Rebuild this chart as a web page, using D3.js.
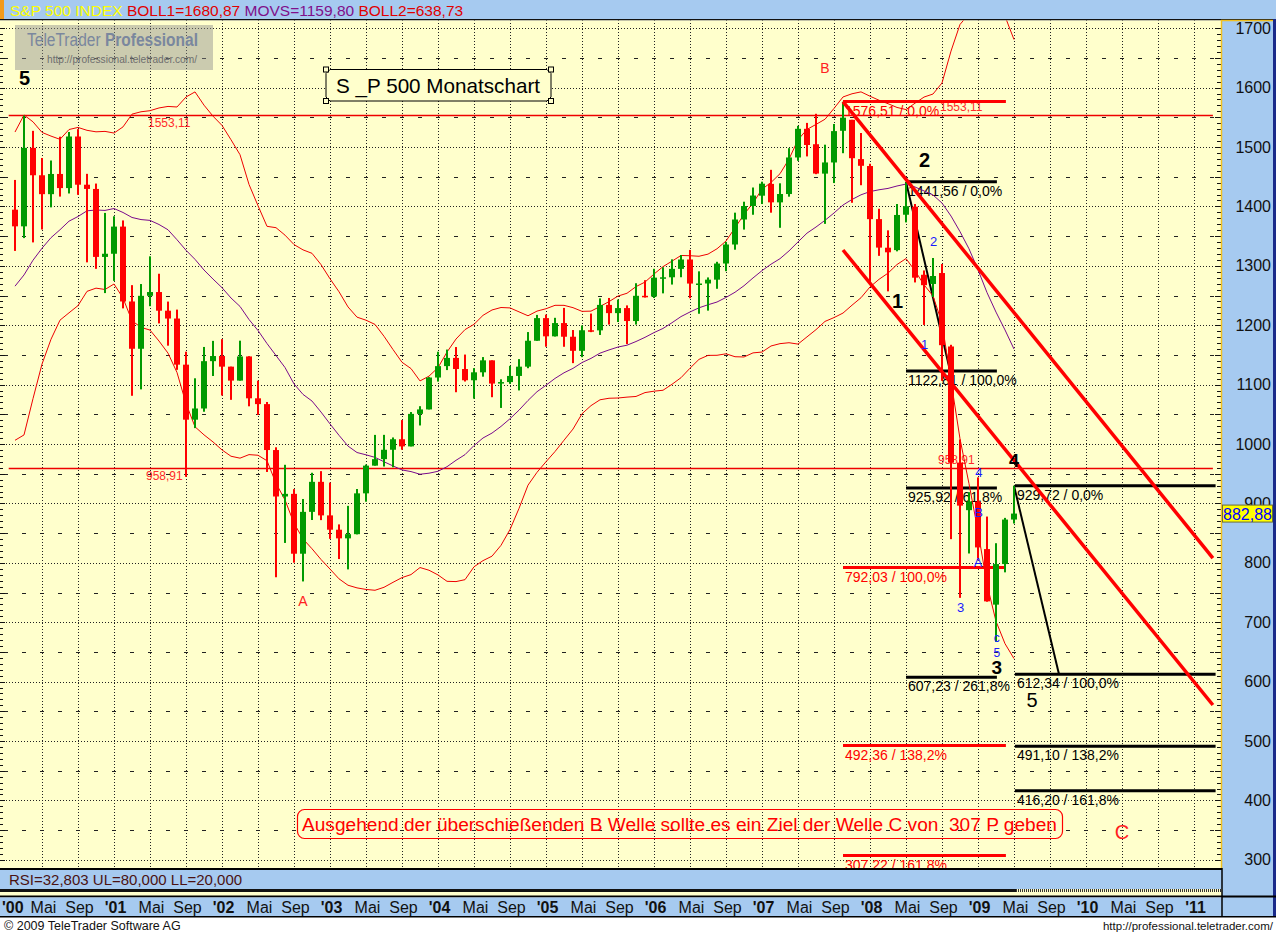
<!DOCTYPE html>
<html lang="de">
    <head>
        <meta charset="utf-8">
        <title>S&amp;P 500 Monatschart</title>
        <script type="text/javascript" src="https://cdn.jsdelivr.net/npm/d3@7"></script>
        <style type="text/css">
            body { margin: 0; background: #fff; }
            svg { display: block; font-family: Arial, "Liberation Sans", sans-serif; }
        </style>
    </head>
    <body>
        <script type="text/javascript">
            var w = 1276;
            var h = 934;

            //Data: monthly S&P 500 candles, Feb 2000 .. May 2009
            var firstMonth = 1; // months counted from Jan 2000
            var openP = [
                1394.46,1366.42,1498.58,1452.43,1420.60,1454.60,1430.83,1517.68,1436.52,1429.40,1314.95,
                1320.28,1366.01,1239.94,1160.33,1249.46,1255.82,1224.42,1211.23,1133.58,1040.94,1059.78,1139.45,
                1148.08,1130.20,1106.73,1147.39,1076.92,1067.14,989.82,911.62,916.07,815.28,885.76,936.31,
                879.82,855.70,841.15,848.18,916.92,963.59,974.50,990.31,1008.01,995.97,1050.71,1058.20,
                1111.92,1131.13,1144.94,1126.21,1107.30,1120.68,1140.84,1101.72,1104.24,1114.58,1130.20,1173.82,
                1211.92,1181.27,1203.60,1180.59,1156.85,1191.50,1191.33,1234.18,1220.33,1228.81,1207.01,1249.48,
                1248.29,1280.08,1280.66,1294.83,1310.61,1270.09,1270.20,1276.66,1303.82,1335.85,1377.94,1400.63,
                1418.03,1437.90,1406.80,1420.83,1482.37,1530.62,1504.66,1455.18,1473.96,1527.29,1545.79,1479.63,
                1467.97,1378.60,1330.45,1326.41,1385.97,1399.62,1284.91,1269.42,1287.83,1164.17,968.67,888.61,
                902.99,823.09,729.57,797.87,872.81
            ];
            var highP = [
                1444.55,1552.87,1527.19,1481.51,1477.26,1517.32,1525.21,1530.09,1454.82,1438.46,1389.06,
                1383.37,1376.38,1267.42,1269.30,1315.93,1286.62,1239.78,1226.27,1155.40,1110.61,1163.38,1173.62,
                1176.55,1130.20,1173.94,1147.84,1106.59,1070.74,994.46,965.00,924.02,907.44,951.57,954.28,
                935.05,864.64,895.90,924.24,965.38,1015.33,1015.41,1011.01,1040.29,1053.79,1063.65,1112.56,
                1155.38,1158.98,1163.23,1150.57,1127.74,1146.34,1140.84,1108.96,1131.54,1142.94,1188.46,1217.33,
                1217.80,1212.44,1229.11,1191.88,1199.56,1219.59,1245.15,1245.86,1243.13,1233.34,1270.64,1275.80,
                1294.90,1297.57,1310.88,1318.16,1326.70,1290.68,1280.42,1306.74,1340.28,1389.45,1407.89,1431.81,
                1441.61,1461.57,1438.89,1498.02,1535.56,1540.56,1555.90,1503.89,1538.74,1576.09,1545.79,1523.57,
                1471.77,1396.02,1359.68,1404.00,1440.24,1404.05,1292.17,1313.15,1303.04,1167.03,1007.51,918.85,
                943.85,877.86,832.98,875.63,929.72
            ];
            var lowP = [
                1325.07,1346.62,1339.40,1361.09,1398.39,1416.54,1421.76,1419.44,1305.79,1294.90,1254.07,
                1274.62,1228.33,1081.19,1091.99,1232.00,1203.03,1165.54,1124.87,944.75,1026.76,1054.31,1114.51,
                1081.66,1074.36,1106.73,1063.46,1048.96,952.92,775.68,833.44,800.20,768.63,872.05,871.84,
                840.34,806.29,788.90,847.85,902.83,963.59,962.10,960.84,990.36,995.97,1031.20,1058.20,
                1105.08,1124.44,1087.16,1105.21,1076.32,1113.32,1078.78,1060.72,1101.29,1090.19,1127.60,1173.76,
                1163.75,1180.95,1163.69,1136.15,1146.18,1188.30,1183.55,1201.07,1205.35,1168.20,1201.07,1246.59,
                1245.74,1253.61,1268.42,1280.74,1245.34,1219.29,1224.54,1261.30,1290.93,1327.10,1360.98,1385.93,
                1403.97,1389.42,1363.98,1416.37,1476.70,1484.18,1454.25,1370.60,1439.29,1489.56,1406.10,1435.65,
                1270.05,1316.75,1256.98,1324.35,1373.07,1272.00,1200.44,1247.45,1106.39,839.80,741.02,815.69,
                804.22,734.52,666.79,783.94,866.10
            ];
            var closeP = [
                1366.42,1498.58,1452.43,1420.60,1454.60,1430.83,1517.68,1436.51,1429.40,1314.95,1320.28,
                1366.01,1239.94,1160.33,1249.46,1255.82,1224.42,1211.23,1133.58,1040.94,1059.78,1139.45,1148.08,
                1130.20,1106.73,1147.39,1076.92,1067.14,989.82,911.62,916.07,815.28,885.76,936.31,879.82,
                855.70,841.15,848.18,916.92,963.59,974.50,990.31,1008.01,995.97,1050.71,1058.20,1111.92,
                1131.13,1144.94,1126.21,1107.30,1120.68,1140.84,1101.72,1104.24,1114.58,1130.20,1173.82,1211.92,
                1181.27,1203.60,1180.59,1156.85,1191.50,1191.33,1234.18,1220.33,1228.81,1207.01,1249.48,1248.29,
                1280.08,1280.66,1294.83,1310.61,1270.09,1270.20,1276.66,1303.82,1335.85,1377.94,1400.63,1418.30,
                1438.24,1406.82,1420.86,1482.37,1530.62,1503.35,1455.27,1473.99,1526.75,1549.38,1481.14,1468.36,
                1378.55,1330.63,1322.70,1385.59,1400.38,1280.00,1267.38,1282.83,1166.36,968.75,896.24,903.25,
                825.88,735.09,797.87,872.81,882.88
            ];
            // closes Jul 1998 .. Jan 2000, needed for the first 20-month averages
            var warmupCloses = [
                1120.67,957.28,1017.01,1098.67,1163.63,1229.23,
                1279.64,1238.33,1286.37,1335.18,1301.84,1372.71,1328.72,1320.41,1282.71,1362.93,1388.91,1469.25,
                1394.46
            ];

            var yearLabels = ["'00","'01","'02","'03","'04","'05","'06","'07","'08","'09","'10","'11"];
            var monthLabels = ["Mai", "Sep"];
            var priceTicks = [300,400,500,600,700,800,900,1000,1100,1200,1300,1400,1500,1600,1700];
            var legendValues = ["1680,87", "1159,80", "638,73"];
            var rsiText = "RSI=32,803 UL=80,000 LL=20,000";

            var levelValues = [1553.11, 958.91];
            var fibRedLevels = [1576.51, 792.03, 492.36, 307.22];
            var fibRedPct = ["0,0%", "100,0%", "138,2%", "161,8%"];
            var fibWave3Levels = [1441.56, 1122.81, 925.92, 607.23];
            var fibWave3Pct = ["0,0%", "100,0%", "61,8%", "261,8%"];
            var fibWave5Levels = [929.72, 612.34, 491.10, 416.20];
            var fibWave5Pct = ["0,0%", "100,0%", "138,2%", "161,8%"];

            var de = d3.formatLocale({decimal: ",", thousands: ".", grouping: [3], currency: ["", ""]});
            var fmt = de.format(".2f");

            var candles = openP.map(function(o, i) {
                return {m: firstMonth + i, o: o, h: highP[i], l: lowP[i], c: closeP[i]};
            });

            // MOVS (20) and BOLL (2 sigma) as named in the chart legend
            var allCloses = warmupCloses.concat(closeP);
            var bands = [];
            for (var j = 19; j < allCloses.length; j++) {
                var win = allCloses.slice(j - 19, j + 1);
                var mean = d3.mean(win);
                var sd = Math.sqrt(d3.mean(win, function(v) { return (v - mean) * (v - mean); }));
                bands.push({m: firstMonth + j - 19, mid: mean, up: mean + 2 * sd, lo: mean - 2 * sd});
            }

            var xScale = d3.scaleLinear().domain([0, 132]).range([6, 1194]);
            var yScale = d3.scaleLinear().domain([300, 1700]).range([859.8, 28.2]);

            var svg = d3.select("body").append("svg")
                .attr("width", w)
                .attr("height", h);

            svg.append("rect").attr("width", w).attr("height", h).attr("fill", "#fff");

            //Title bar
            svg.append("rect").attr("x", 0).attr("y", 0).attr("width", w).attr("height", 19).attr("fill", "#a6caf0");
            svg.append("rect").attr("x", 0).attr("y", 0).attr("width", 4).attr("height", 19).attr("fill", "#f39a1b");
            svg.append("rect").attr("x", 0).attr("y", 19).attr("width", w).attr("height", 1.5).attr("fill", "#111");
            var title = svg.append("text").attr("x", 10).attr("y", 16).attr("font-size", "15.5px");
            title.append("tspan").attr("fill", "#ffff00").text("S&P 500 INDEX ");
            title.append("tspan").attr("fill", "#e00000").text("BOLL1=" + legendValues[0] + " ");
            title.append("tspan").attr("fill", "#80108a").text("MOVS=" + legendValues[1] + " ");
            title.append("tspan").attr("fill", "#e00000").text("BOLL2=" + legendValues[2]);

            //Plot area
            svg.append("defs").append("clipPath").attr("id", "plotClip")
                .append("rect").attr("x", 0).attr("y", 20.5).attr("width", 1221).attr("height", 848);
            var plot = svg.append("g").attr("clip-path", "url(#plotClip)");
            plot.append("rect").attr("x", 0).attr("y", 20).attr("width", 1221).attr("height", 849).attr("fill", "#ffffcc");

            // grid
            plot.selectAll(".gh").data(priceTicks).enter().append("line")
                .attr("x1", 0).attr("x2", 1221)
                .attr("y1", function(d) { return Math.round(yScale(d)) + 0.5; })
                .attr("y2", function(d) { return Math.round(yScale(d)) + 0.5; })
                .attr("stroke", "#222").attr("stroke-dasharray", "1,2");
            plot.selectAll(".gm").data(priceTicks.slice(0, -1)).enter().append("line")
                .attr("x1", 4).attr("x2", 1221)
                .attr("y1", function(d) { return Math.round(yScale(d + 50)) + 0.5; })
                .attr("y2", function(d) { return Math.round(yScale(d + 50)) + 0.5; })
                .attr("stroke", "#222").attr("stroke-dasharray", "4,14");
            plot.selectAll(".gv").data(d3.range(4, 133, 4)).enter().append("line")
                .attr("x1", function(d) { return Math.round(xScale(d)) + 0.5; })
                .attr("x2", function(d) { return Math.round(xScale(d)) + 0.5; })
                .attr("y1", 20).attr("y2", 869)
                .attr("stroke", "#222").attr("stroke-dasharray", "1,2");

            var minorTicks = d3.range(300, 1701, 10);
            plot.selectAll(".tl").data(minorTicks).enter().append("line")
                .attr("x1", 0).attr("x2", function(d) { return d % 50 === 0 ? 5 : 3; })
                .attr("y1", function(d) { return Math.round(yScale(d)) + 0.5; })
                .attr("y2", function(d) { return Math.round(yScale(d)) + 0.5; })
                .attr("stroke", "#111");
            plot.selectAll(".tr").data(minorTicks).enter().append("line")
                .attr("x1", function(d) { return d % 50 === 0 ? 1215 : 1217; }).attr("x2", 1221)
                .attr("y1", function(d) { return Math.round(yScale(d)) + 0.5; })
                .attr("y2", function(d) { return Math.round(yScale(d)) + 0.5; })
                .attr("stroke", "#111");

            // watermark
            plot.append("rect").attr("x", 15).attr("y", 25).attr("width", 198).attr("height", 45)
                .attr("fill", "#8c8c8c").attr("opacity", 0.45);
            var wm = plot.append("text").attr("x", 27).attr("y", 46).attr("font-size", "18px")
                .attr("fill", "#7a879e").attr("textLength", 171).attr("lengthAdjust", "spacingAndGlyphs");
            wm.append("tspan").text("TeleTrader ");
            wm.append("tspan").attr("font-weight", "bold").text("Professional");
            plot.append("text").attr("x", 47).attr("y", 63).attr("font-size", "10.5px").attr("fill", "#6e6e6e")
                .attr("textLength", 150).attr("lengthAdjust", "spacingAndGlyphs")
                .text("http://professional.teletrader.com/");

            // chart title box
            plot.append("path").attr("d", "M330,69.5H547L551,73.5V97L547,101H330L326,97V73.5Z")
                .attr("fill", "#ffffcc").attr("stroke", "#000");
            plot.append("text").attr("x", 336).attr("y", 93).attr("font-size", "21px").attr("fill", "#000")
                .attr("textLength", 204).attr("lengthAdjust", "spacingAndGlyphs")
                .text("S _P 500 Monatschart");
            plot.selectAll(".hd").data([[326, 69.5], [551, 69.5], [326, 101], [551, 101]]).enter().append("rect")
                .attr("x", function(d) { return d[0] - 2.5; }).attr("y", function(d) { return d[1] - 2.5; })
                .attr("width", 5).attr("height", 5).attr("fill", "#ffffcc").attr("stroke", "#000");

            // horizontal levels
            plot.selectAll(".lvl").data(levelValues).enter().append("line")
                .attr("x1", xScale(0.3)).attr("x2", xScale(134.1))
                .attr("y1", function(d) { return yScale(d); }).attr("y2", function(d) { return yScale(d); })
                .attr("stroke", "#ee0000").attr("stroke-width", 1.5);
            plot.selectAll(".lvlA").data(levelValues).enter().append("text")
                .attr("x", function(d, i) { return i === 0 ? 148 : 146; })
                .attr("y", function(d) { return yScale(d) + 12; })
                .attr("font-size", "12px").attr("fill", "#ff2a2a").text(function(d) { return fmt(d); });
            plot.selectAll(".lvlB").data(levelValues).enter().append("text")
                .attr("x", function(d, i) { return i === 0 ? 940 : 938; })
                .attr("y", function(d) { return yScale(d) - 4; })
                .attr("font-size", "12px").attr("fill", "#ff2a2a").text(function(d) { return fmt(d); });

            // fibonacci levels
            function drawFib(levels, pcts, m0, m1, color) {
                var g = plot.append("g");
                g.selectAll("line").data(levels).enter().append("line")
                    .attr("x1", xScale(m0)).attr("x2", xScale(m1))
                    .attr("y1", function(d) { return yScale(d); }).attr("y2", function(d) { return yScale(d); })
                    .attr("stroke", color).attr("stroke-width", 3);
                g.selectAll("text").data(levels).enter().append("text")
                    .attr("x", xScale(m0) + 2)
                    .attr("y", function(d) { return yScale(d) + 14; })
                    .attr("font-size", "14px").attr("fill", color)
                    .text(function(d, i) { return fmt(d) + " / " + pcts[i]; });
            }
            drawFib(fibRedLevels, fibRedPct, 93, 111.1, "#ff0000");
            drawFib(fibWave3Levels, fibWave3Pct, 100, 110.1, "#000");
            drawFib(fibWave5Levels, fibWave5Pct, 112.1, 134.4, "#000");

            var line = d3.line()
                .x(function(d) { return xScale(d[0]); })
                .y(function(d) { return yScale(d[1]); });
            plot.append("path").attr("d", line([[100, fibWave3Levels[0]], [104.9, fibWave3Levels[1]]]))
                .attr("fill", "none").attr("stroke", "#000").attr("stroke-width", 2);
            plot.append("path").attr("d", line([[112, fibWave5Levels[0]], [117, fibWave5Levels[1]]]))
                .attr("fill", "none").attr("stroke", "#000").attr("stroke-width", 2);

            // bollinger bands and moving average
            var bandLine = function(key) {
                return d3.line()
                    .x(function(d) { return xScale(d.m); })
                    .y(function(d) { return yScale(d[key]); });
            };
            plot.append("path").attr("d", bandLine("up")(bands)).attr("fill", "none").attr("stroke", "#ee0000").attr("stroke-width", 1);
            plot.append("path").attr("d", bandLine("lo")(bands)).attr("fill", "none").attr("stroke", "#ee0000").attr("stroke-width", 1);
            plot.append("path").attr("d", bandLine("mid")(bands)).attr("fill", "none").attr("stroke", "#7a0a8c").attr("stroke-width", 1);

            // candles
            var candle = plot.selectAll(".candle").data(candles).enter().append("g");
            candle.append("rect")
                .attr("x", function(d) { return xScale(d.m) - 1; })
                .attr("y", function(d) { return yScale(d.h); })
                .attr("width", 2)
                .attr("height", function(d) { return yScale(d.l) - yScale(d.h); })
                .attr("fill", function(d) { return d.c >= d.o ? "#009a00" : "#ff0000"; });
            candle.append("rect")
                .attr("x", function(d) { return xScale(d.m) - 3; })
                .attr("y", function(d) { return yScale(Math.max(d.o, d.c)); })
                .attr("width", 6)
                .attr("height", function(d) { return Math.max(1.5, Math.abs(yScale(d.o) - yScale(d.c))); })
                .attr("fill", function(d) { return d.c >= d.o ? "#009a00" : "#ff0000"; });

            // trend channel
            plot.append("path").attr("d", line([[93, 1576.51], [134.1, 808]]))
                .attr("fill", "none").attr("stroke", "#ff0000").attr("stroke-width", 3.5);
            plot.append("path").attr("d", line([[93, 1326.6], [134.1, 560.6]]))
                .attr("fill", "none").attr("stroke", "#ff0000").attr("stroke-width", 3.5);

            // wave counts
            var waveLabels = [
                {t: "5", m: 2.06, p: 1604, s: 20, c: "#000", b: true},
                {t: "A", m: 33, p: 727, s: 14, c: "#ff2020", b: false},
                {t: "B", m: 91, p: 1625, s: 14, c: "#ff2020", b: false},
                {t: "C", m: 124, p: 335, s: 20, c: "#ff2020", b: false},
                {t: "1", m: 99.06, p: 1229, s: 20, c: "#000", b: true},
                {t: "2", m: 102.06, p: 1466, s: 20, c: "#000", b: true},
                {t: "3", m: 110.1, p: 613, s: 19, c: "#000", b: true},
                {t: "4", m: 112, p: 961, s: 18, c: "#000", b: true},
                {t: "5", m: 114, p: 557, s: 20, c: "#000", b: false},
                {t: "2", m: 103.06, p: 1333, s: 13, c: "#1a1aff", b: false},
                {t: "1", m: 102.06, p: 1160, s: 13, c: "#1a1aff", b: false},
                {t: "4", m: 108.1, p: 944, s: 13, c: "#1a1aff", b: false},
                {t: "B", m: 108.06, p: 877, s: 13, c: "#1a1aff", b: false},
                {t: "A", m: 108, p: 793, s: 13, c: "#1a1aff", b: false},
                {t: "3", m: 106.06, p: 717, s: 13, c: "#1a1aff", b: false},
                {t: "c", m: 110.07, p: 667, s: 12, c: "#1a1aff", b: false},
                {t: "5", m: 110.1, p: 642, s: 12, c: "#1a1aff", b: false}
            ];
            plot.selectAll(".wave").data(waveLabels).enter().append("text")
                .attr("x", function(d) { return xScale(d.m); })
                .attr("y", function(d) { return yScale(d.p); })
                .attr("text-anchor", "middle")
                .attr("font-size", function(d) { return d.s + "px"; })
                .attr("font-weight", function(d) { return d.b ? "bold" : "normal"; })
                .attr("fill", function(d) { return d.c; })
                .text(function(d) { return d.t; });

            // comment box
            plot.append("rect").attr("x", 297.5).attr("y", 809.5).attr("width", 765).attr("height", 29).attr("rx", 7)
                .attr("fill", "none").attr("stroke", "#ff0000").attr("stroke-width", 1.2);
            plot.append("text").attr("x", 302).attr("y", 831).attr("font-size", "18px").attr("fill", "#ff0000")
                .attr("textLength", 755).attr("lengthAdjust", "spacingAndGlyphs")
                .text("Ausgehend der überschießenden B Welle sollte es ein Ziel der Welle C von \u00a0307 P geben");

            //Right price axis
            svg.append("rect").attr("x", 1222).attr("y", 20).attr("width", 52).attr("height", 897).attr("fill", "#a6caf0");
            svg.append("line").attr("x1", 1221.5).attr("x2", 1221.5).attr("y1", 20).attr("y2", 869)
                .attr("stroke", "#f0c020").attr("stroke-width", 1.5);
            svg.append("line").attr("x1", 1221).attr("x2", 1274).attr("y1", 20.5).attr("y2", 20.5)
                .attr("stroke", "#f0c020").attr("stroke-width", 1.5);
            svg.append("rect").attr("x", 1273).attr("y", 19).attr("width", 3).attr("height", 898).attr("fill", "#1a2a8a");

            var yAxis = d3.axisLeft(yScale).tickValues(priceTicks).tickSize(0).tickPadding(0)
                .tickFormat(d3.format("d"));
            var axisG = svg.append("g").attr("transform", "translate(1271,0)").call(yAxis);
            axisG.select(".domain").remove();
            axisG.selectAll("text").attr("font-size", "16px").attr("font-family", "Arial, 'Liberation Sans', sans-serif")
                .attr("fill", "#111");

            var last = closeP[closeP.length - 1];
            svg.append("rect").attr("x", 1222.5).attr("y", yScale(last) - 8.5).attr("width", 50).attr("height", 17)
                .attr("fill", "#ffff00").attr("stroke", "#6b6b3a");
            svg.append("text").attr("x", 1247.5).attr("y", yScale(last) + 6).attr("text-anchor", "middle")
                .attr("font-size", "16px").attr("fill", "#0000ff").text(fmt(last));

            //RSI panel and time axis
            svg.append("rect").attr("x", 0).attr("y", 868).attr("width", 1222).attr("height", 2).attr("fill", "#000");
            svg.append("rect").attr("x", 0).attr("y", 870).attr("width", 1222).attr("height", 19).attr("fill", "#a6caf0");
            svg.append("text").attr("x", 9).attr("y", 885).attr("font-size", "15px").attr("fill", "#4a1212").text(rsiText);
            svg.append("rect").attr("x", 0).attr("y", 889).attr("width", 1222).attr("height", 7).attr("fill", "#ffffcc");
            svg.append("rect").attr("x", 0).attr("y", 889).attr("width", xScale(112) + 2).attr("height", 3).attr("fill", "#111");
            svg.append("line").attr("x1", xScale(112) + 2).attr("x2", 1221).attr("y1", 890.5).attr("y2", 890.5)
                .attr("stroke", "#333").attr("stroke-width", 3).attr("stroke-dasharray", "1,1");
            svg.append("rect").attr("x", 0).attr("y", 895.5).attr("width", 1276).attr("height", 2).attr("fill", "#000");
            svg.append("rect").attr("x", 0).attr("y", 897.5).attr("width", 1222).attr("height", 18.5).attr("fill", "#a6caf0");
            svg.append("rect").attr("x", 0).attr("y", 916).attr("width", 1276).attr("height", 1.5).attr("fill", "#000");
            svg.append("line").attr("x1", 1222).attr("x2", 1222).attr("y1", 868).attr("y2", 917).attr("stroke", "#000").attr("stroke-width", 1.5);

            var xLabels = [];
            yearLabels.forEach(function(yl, k) {
                xLabels.push({t: yl, m: 12 * k, b: true});
                if (12 * k + 8 <= 132) {
                    xLabels.push({t: monthLabels[0], m: 12 * k + 4, b: false});
                    xLabels.push({t: monthLabels[1], m: 12 * k + 8, b: false});
                }
            });
            svg.selectAll(".xl").data(xLabels).enter().append("text")
                .attr("x", function(d) { return d.m === 0 ? 2 : xScale(d.m) + 1.5; })
                .attr("y", 913)
                .attr("text-anchor", function(d) { return d.m === 0 ? "start" : "middle"; })
                .attr("font-size", "16px")
                .attr("font-weight", function(d) { return d.b ? "bold" : "normal"; })
                .attr("fill", "#111")
                .text(function(d) { return d.t; });

            //Footer
            svg.append("text").attr("x", 4).attr("y", 930).attr("font-size", "12.5px").attr("fill", "#111")
                .text("© 2009 TeleTrader Software AG");
            svg.append("text").attr("x", 1273).attr("y", 930).attr("text-anchor", "end").attr("font-size", "11.5px")
                .attr("fill", "#111").text("http://professional.teletrader.com/");
        </script>
    </body>
</html>
